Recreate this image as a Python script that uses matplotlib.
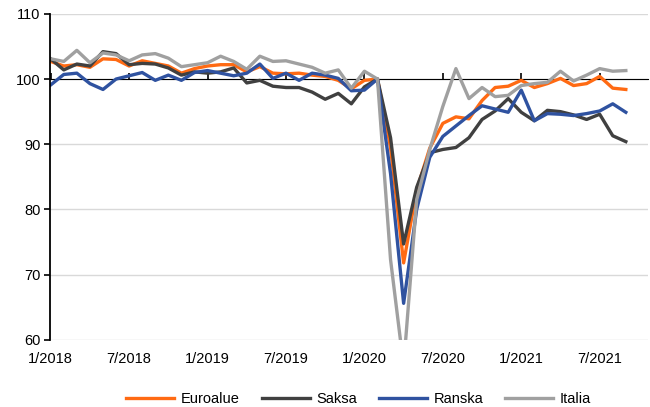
import numpy as np
import matplotlib.pyplot as plt

# kuukausidata 1/2018 - 9/2021
kuukaudet = np.arange(45)
tick_pos = [0, 6, 12, 18, 24, 30, 36, 42]
tick_labels = ['1/2018', '7/2018', '1/2019', '7/2019', '1/2020', '7/2020', '1/2021', '7/2021']

euroalue = [102.7, 102.0, 102.2, 101.8, 103.1, 103.0, 102.0, 102.8, 102.4, 102.0,
            100.9, 101.6, 102.0, 102.2, 102.2, 101.1, 101.9, 100.9, 100.8, 100.9,
            100.6, 100.4, 99.8, 98.5, 99.8, 100.0, 89.5, 71.8, 83.0, 89.4,
            93.2, 94.2, 93.9, 96.7, 98.7, 98.9, 99.8, 98.7, 99.3, 100.1,
            99.0, 99.3, 100.4, 98.6, 98.4]
saksa = [103.1, 101.4, 102.3, 102.0, 104.2, 103.9, 102.2, 102.4, 102.3, 101.7,
         100.6, 101.1, 100.9, 101.1, 101.7, 99.4, 99.8, 98.9, 98.7, 98.7,
         98.0, 96.9, 97.8, 96.2, 98.8, 100.0, 91.0, 74.7, 83.4, 88.7,
         89.2, 89.5, 91.0, 93.8, 95.1, 97.0, 94.9, 93.6, 95.2, 95.0,
         94.5, 93.8, 94.6, 91.3, 90.4]
ranska = [99.1, 100.7, 100.9, 99.3, 98.4, 100.0, 100.5, 101.0, 99.8, 100.6,
          99.8, 101.0, 101.3, 100.9, 100.5, 100.9, 102.3, 100.1, 100.9, 99.8,
          100.9, 100.6, 100.1, 98.2, 98.3, 100.0, 85.5, 65.6, 80.0, 88.0,
          91.2, 92.8, 94.4, 95.9, 95.4, 94.9, 98.3, 93.6, 94.7, 94.6,
          94.4, 94.7, 95.1, 96.2, 94.9]
italia = [103.1, 102.7, 104.4, 102.5, 104.0, 103.7, 102.8, 103.7, 103.9, 103.2,
          101.9, 102.2, 102.5, 103.5, 102.7, 101.5, 103.5, 102.7, 102.8, 102.3,
          101.8, 100.9, 101.4, 98.6, 101.2, 100.0, 72.3, 56.0, 81.5, 89.2,
          95.8, 101.6, 97.0, 98.7, 97.3, 97.5, 99.0, 99.3, 99.5, 101.2,
          99.7, 100.6, 101.6, 101.2, 101.3]

plt.rcParams['font.family'] = ['Liberation Sans', 'DejaVu Sans']

fig = plt.figure(figsize=(6.5, 4.07), dpi=100)
ax = fig.add_axes([0.077, 0.165, 0.92, 0.801])

ax.plot(kuukaudet, euroalue, color='#FF6A13', lw=2.4, label='Euroalue')
ax.plot(kuukaudet, saksa, color='#404040', lw=2.4, label='Saksa')
ax.plot(kuukaudet, ranska, color='#2F52A0', lw=2.4, label='Ranska')
ax.plot(kuukaudet, italia, color='#A0A0A0', lw=2.4, label='Italia')

ax.set_ylim(60, 110)
ax.set_xlim(-0.05, 45.7)
ax.set_yticks([60, 70, 80, 90, 100, 110])
ax.yaxis.grid(True, color='#D9D9D9', lw=1)
ax.set_axisbelow(True)
for s in ['top', 'right', 'bottom']:
    ax.spines[s].set_visible(False)
ax.spines['left'].set_linewidth(1.3)
ax.tick_params(axis='y', direction='out', length=4, width=1.2, labelsize=10.5, pad=3)

ax.set_xticks(tick_pos)
ax.set_xticklabels(tick_labels)
ax.tick_params(axis='x', length=0, labelsize=10.5, pad=9)

# vaaka-akseli kulkee tason 100 kohdalla
sec = ax.secondary_xaxis(0.8)
sec.set_xticks(tick_pos)
sec.set_xticklabels([])
sec.tick_params(axis='x', direction='out', length=4, width=1.2)
sec.spines['bottom'].set_linewidth(2.0)
sec.set_zorder(1.9)

fig.legend(loc='lower center', ncol=4, frameon=False, fontsize=10.5,
           handlelength=3.3, handletextpad=0.45, columnspacing=1.5,
           bbox_to_anchor=(0.552, -0.03))

fig.savefig('out.png', dpi=100)
